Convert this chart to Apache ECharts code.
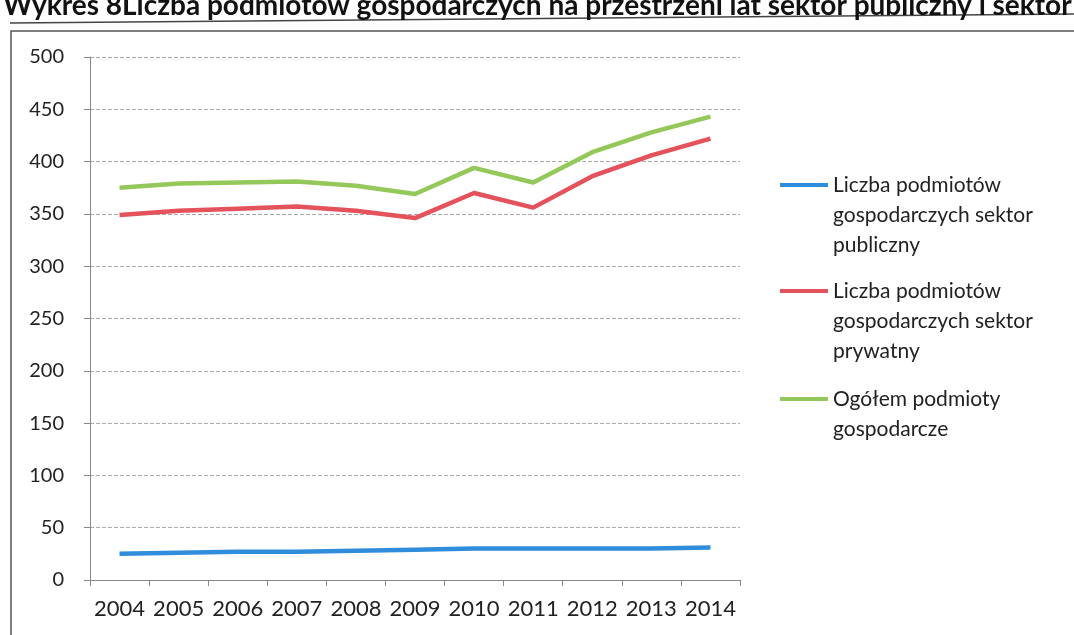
<!DOCTYPE html>
<html>
<head>
<meta charset="utf-8">
<script src="https://cdn.jsdelivr.net/npm/echarts@6/dist/echarts.min.js"></script>
<style>
  html, body { margin: 0; padding: 0; background: #fff; }
  #chart { width: 1074px; height: 635px; }
</style>
</head>
<body>
<div id="chart"></div>
<script>
const years = ["2004", "2005", "2006", "2007", "2008", "2009", "2010", "2011", "2012", "2013", "2014"];
const publicSector = [25, 26, 27, 27, 28, 29, 30, 30, 30, 30, 31];
const privateSector = [349, 353, 355, 357, 353, 346, 370, 356, 386, 406, 422];
const total = [375, 379, 380, 381, 377, 369, 394, 380, 409, 428, 443];
const yTicks = [0, 50, 100, 150, 200, 250, 300, 350, 400, 450, 500];

const names = {
  pub: "Liczba podmiotów gospodarczych sektor publiczny",
  priv: "Liczba podmiotów gospodarczych sektor prywatny",
  all: "Ogółem podmioty gospodarcze",
};
// blank lines on top keep the legend line level with the first text line
const legendText = {
  [names.pub]: "\n\nLiczba podmiotów\ngospodarczych sektor\npubliczny",
  [names.priv]: "\n\nLiczba podmiotów\ngospodarczych sektor\nprywatny",
  [names.all]: "\nOgółem podmioty\ngospodarcze",
};

const font = "Lato, 'Open Sans', sans-serif";
const chart = echarts.init(document.getElementById("chart"));

function legendAt(name, top) {
  return {
    data: [{ name: name, icon: "rect" }],
    orient: "vertical",
    left: 775,
    top: top,
    itemWidth: 48,
    itemHeight: 4,
    selectedMode: false,
    formatter: (n) => legendText[n],
    textStyle: { fontFamily: font, fontSize: 21, color: "#222", lineHeight: 30 },
  };
}

chart.setOption({
  animation: false,
  title: {
    text: "Wykres 8Liczba podmiotów gospodarczych na przestrzeni lat sektor publiczny i sektor prywatny",
    left: -2,
    top: -13,
    textStyle: { fontFamily: font, fontSize: 28, fontWeight: "bold", color: "#111" },
  },
  graphic: [
    { type: "line", shape: { x1: 10, y1: 23, x2: 1074, y2: 14 }, style: { stroke: "#444", lineWidth: 1.5 } },
    { type: "rect", shape: { x: 11, y: 31, width: 1100, height: 700 }, style: { fill: "none", stroke: "#555", lineWidth: 1.5 } },
  ],
  legend: [
    legendAt(names.pub, 105),
    legendAt(names.priv, 211),
    legendAt(names.all, 349),
  ],
  grid: { left: 90, right: 334, top: 57, bottom: 55 },
  xAxis: {
    type: "category",
    data: years,
    axisLine: { lineStyle: { color: "#888" } },
    axisTick: { show: true, length: 6, lineStyle: { color: "#888" } },
    axisLabel: { interval: 0, margin: 18, fontFamily: font, fontSize: 22, color: "#222" },
  },
  yAxis: {
    type: "value",
    min: yTicks[0],
    max: yTicks[yTicks.length - 1],
    interval: 50,
    axisLine: { show: true, lineStyle: { color: "#888" } },
    axisTick: { show: true, length: 6, lineStyle: { color: "#888" } },
    axisLabel: { margin: 26, fontFamily: font, fontSize: 20, color: "#222" },
    splitLine: { lineStyle: { color: "#aaa", type: "dashed", width: 1 } },
  },
  series: [
    {
      name: names.pub,
      type: "line",
      data: publicSector,
      symbol: "none",
      lineStyle: { color: "#2f8ddb", width: 4.5 },
      itemStyle: { color: "#2f8ddb" },
    },
    {
      name: names.priv,
      type: "line",
      data: privateSector,
      symbol: "none",
      lineStyle: { color: "#e4525b", width: 4.5 },
      itemStyle: { color: "#e4525b" },
    },
    {
      name: names.all,
      type: "line",
      data: total,
      symbol: "none",
      lineStyle: { color: "#95c85a", width: 4.5 },
      itemStyle: { color: "#95c85a" },
    },
  ],
});
</script>
</body>
</html>
